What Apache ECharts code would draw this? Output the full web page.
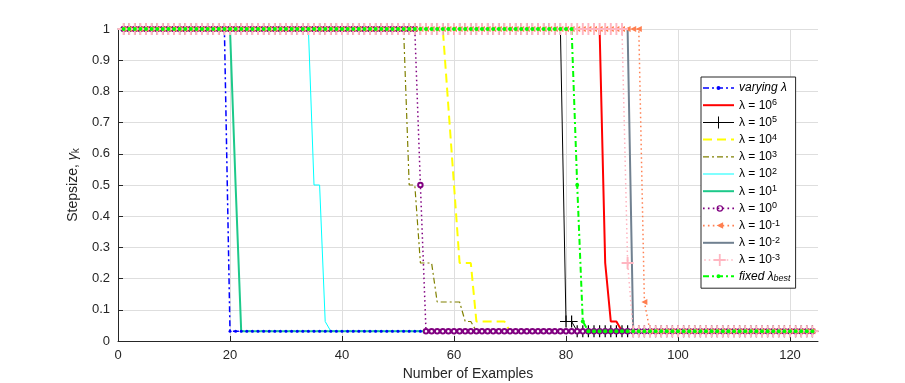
<!DOCTYPE html>
<html>
<head>
<meta charset="utf-8">
<script src="https://cdn.jsdelivr.net/npm/echarts@6/dist/echarts.min.js"></script>
<style>
    html, body { margin: 0; padding: 0; background: #fff; }
    #chart { width: 905px; height: 383px; }
</style>
</head>
<body>
<div id="chart"></div>
<script>
var LOW = 0.03125;
var varyingRuns = [[1, 19], [LOW, 105]];
var lam1e6Runs = [[1, 86], [0.25, 1], [0.0625, 2], [LOW, 35]];
var lam1e5Runs = [[1, 79], [0.0625, 2], [LOW, 43]];
var lam1e4Runs = [[1, 58], [0.75, 1], [0.5, 1], [0.25, 3], [0.0625, 6], [LOW, 55]];
var lam1e3Runs = [[1, 51], [0.5, 2], [0.25, 3], [0.125, 5], [0.0625, 2], [LOW, 61]];
var lam1e2Runs = [[1, 34], [0.5, 2], [0.0625, 1], [LOW, 87]];
var lam1e1Runs = [[1, 20], [0.5, 1], [LOW, 103]];
var lam1e0Runs = [[1, 53], [0.5, 1], [LOW, 70]];
var lam1em1Runs = [[1, 93], [0.125, 1], [LOW, 30]];
var lam1em2Runs = [[1, 91], [LOW, 33]];
var lam1em3Runs = [[1, 90], [0.25, 1], [LOW, 33]];
var fixedRuns = [[1, 81], [0.5, 1], [0.0625, 1], [LOW, 41]];

var xTicks = [0, 20, 40, 60, 80, 100, 120];

var legendLabels = {
    'varying': '{i|varying λ}',
    '1e6': '{n|λ = 10}{s|6}',
    '1e5': '{n|λ = 10}{s|5}',
    '1e4': '{n|λ = 10}{s|4}',
    '1e3': '{n|λ = 10}{s|3}',
    '1e2': '{n|λ = 10}{s|2}',
    '1e1': '{n|λ = 10}{s|1}',
    '1e0': '{n|λ = 10}{s|0}',
    '1e-1': '{n|λ = 10}{s|-1}',
    '1e-2': '{n|λ = 10}{s|-2}',
    '1e-3': '{n|λ = 10}{s|-3}',
    'fixed': '{i|fixed λ}{b|best}'
};

function expand(runs) {
    var out = [];
    runs.forEach(function (r) {
        for (var j = 0; j < r[1]; j++) out.push(r[0]);
    });
    return out.map(function (v, i) { return [i + 1, v]; });
}

// ---- legend icons: line sample + marker drawn as one filled path (31 x 12 box)
var IW = 31, IH = 12, CY = 6, CX = 15.5;
function rect(x, y, w, h) {
    return 'M' + x + ',' + y + 'h' + w + 'v' + h + 'h' + (-w) + 'Z';
}
function circ(r, rev) {
    var s = rev ? 0 : 1;
    return 'M' + (CX - r) + ',' + CY + 'A' + r + ',' + r + ' 0 1,' + s + ' ' + (CX + r) + ',' + CY +
        'A' + r + ',' + r + ' 0 1,' + s + ' ' + (CX - r) + ',' + CY + 'Z';
}
function lineIcon(dash, lw) {
    var y = CY - lw / 2;
    if (dash === 'solid') return rect(0, y, IW, lw);
    var p = '', x = 0, i = 0;
    while (x < IW) {
        var len = dash[i % dash.length];
        if (i % 2 === 0) p += rect(x, y, Math.min(len, IW - x), lw);
        x += len;
        i++;
    }
    return p;
}
function markerIcon(kind) {
    if (kind === 'dot') return circ(2);
    if (kind === 'ring') return circ(3) + circ(1.9, true);
    if (kind === 'tri') return 'M' + (CX - 3) + ',' + CY + 'L' + (CX + 3) + ',' + (CY - 3) + 'L' + (CX + 3) + ',' + (CY + 3) + 'Z';
    if (kind === 'plus') return rect(CX - 6, CY - 0.5, 12, 1) + rect(CX - 0.5, CY - 6, 1, 12);
    if (kind === 'plusBold') return rect(CX - 6, CY - 0.9, 12, 1.8) + rect(CX - 0.9, CY - 6, 1.8, 12);
    return '';
}

var PLUS = 'path://M0,4.5H10V5.5H0Z M4.5,0H5.5V10H4.5Z';
var PLUS_BOLD = 'path://M0,4.2H10V5.8H0Z M4.2,0H5.8V10H4.2Z';

var legendItems = [];
function mkSeries(name, runs, color, width, dash, symbol, size, legendMarker, extra) {
    legendItems.push({
        name: name,
        icon: 'path://' + lineIcon(dash, width) + markerIcon(legendMarker),
        itemStyle: { color: color, borderWidth: 0 }
    });
    var s = {
        name: name,
        type: 'line',
        data: expand(runs),
        lineStyle: { color: color, width: width, type: dash },
        itemStyle: { color: color },
        symbol: symbol || 'none',
        symbolSize: size || 4,
        showAllSymbol: true,
        emphasis: { disabled: true }
    };
    if (extra) Object.assign(s, extra);
    return s;
}

var chart = echarts.init(document.getElementById('chart'));

var seriesList = [
    mkSeries('varying', varyingRuns, '#0000ff', 1.5, [6, 3, 2, 3], 'circle', 3, 'dot'),
    mkSeries('1e6', lam1e6Runs, '#ff0000', 2, 'solid'),
    mkSeries('1e5', lam1e5Runs, '#000000', 1, 'solid', PLUS, 12, 'plus'),
    mkSeries('1e4', lam1e4Runs, '#ffff00', 2, [9, 5]),
    mkSeries('1e3', lam1e3Runs, '#808000', 1.2, [6, 3, 2, 3]),
    mkSeries('1e2', lam1e2Runs, '#00ffff', 1, 'solid'),
    mkSeries('1e1', lam1e1Runs, '#1dc98a', 2, 'solid'),
    mkSeries('1e0', lam1e0Runs, '#800080', 1.5, [1.5, 3], 'emptyCircle', 4.5, 'ring',
        { itemStyle: { color: '#800080', borderColor: '#800080', borderWidth: 1.2 } }),
    mkSeries('1e-1', lam1em1Runs, '#ff7f50', 1.5, [1.5, 3], 'triangle', 6, 'tri', { symbolRotate: 90 }),
    mkSeries('1e-2', lam1em2Runs, '#708090', 2, 'solid'),
    mkSeries('1e-3', lam1em3Runs, '#ffb6c1', 1.5, [1.5, 3], PLUS_BOLD, 12, 'plusBold'),
    mkSeries('fixed', fixedRuns, '#00ff00', 2, [6, 3, 2, 3], 'circle', 4, 'dot')
];

var option = {
    animation: false,
    textStyle: { fontFamily: 'Liberation Sans, Arial, sans-serif' },
    grid: { left: 118, right: 87, top: 29, bottom: 42, outerBoundsMode: 'none' },
    legend: {
        data: legendItems,
        orient: 'vertical',
        left: 701,
        top: 77,
        itemWidth: IW,
        itemHeight: IH,
        itemGap: 4.2,
        padding: [5, 5, 5, 2],
        backgroundColor: '#ffffff',
        borderColor: '#262626',
        borderWidth: 1,
        borderRadius: 0,
        formatter: function (name) { return legendLabels[name]; },
        textStyle: {
            color: '#000',
            fontSize: 12,
            rich: {
                i: { fontSize: 12, fontStyle: 'italic', lineHeight: 14 },
                n: { fontSize: 12, lineHeight: 14 },
                s: { fontSize: 9, lineHeight: 6, verticalAlign: 'top' },
                b: { fontSize: 9, lineHeight: 6, verticalAlign: 'bottom', fontStyle: 'italic' }
            }
        }
    },
    xAxis: {
        type: 'value',
        min: 0,
        max: 125,
        interval: 20,
        name: 'Number of Examples',
        nameLocation: 'middle',
        nameGap: 20,
        nameTextStyle: { fontSize: 14, color: '#262626' },
        axisLine: { lineStyle: { color: '#262626', width: 1 } },
        axisTick: { inside: true, length: 5, customValues: xTicks, lineStyle: { color: '#262626' } },
        axisLabel: { fontSize: 13, color: '#262626', margin: 8, customValues: xTicks },
        splitLine: { show: true, lineStyle: { color: '#dedede', width: 1 } }
    },
    yAxis: {
        type: 'value',
        min: 0,
        max: 1,
        interval: 0.1,
        name: '{a|Stepsize, }{g|γ}{k|k}',
        nameLocation: 'middle',
        nameGap: 36,
        nameRotate: 90,
        nameTextStyle: {
            color: '#262626',
            fontSize: 14,
            rich: {
                a: { fontSize: 14, color: '#262626', lineHeight: 16 },
                g: { fontSize: 14, color: '#262626', fontStyle: 'italic', lineHeight: 16 },
                k: { fontSize: 10, color: '#262626', lineHeight: 6, verticalAlign: 'bottom' }
            }
        },
        axisLine: { show: true, lineStyle: { color: '#262626', width: 1 } },
        axisTick: { show: true, inside: true, length: 5, lineStyle: { color: '#262626' } },
        axisLabel: { fontSize: 13, color: '#262626', margin: 8 },
        splitLine: { show: true, lineStyle: { color: '#dedede', width: 1 } }
    },
    series: seriesList
};

chart.setOption(option);
</script>
</body>
</html>
